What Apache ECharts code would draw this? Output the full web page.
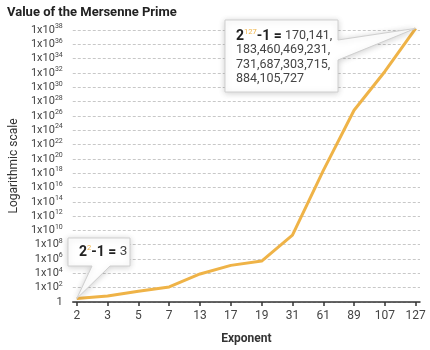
<!DOCTYPE html>
<html>
<head>
<meta charset="utf-8">
<script src="https://cdn.jsdelivr.net/npm/echarts@6/dist/echarts.min.js"></script>
<style>html,body{margin:0;padding:0;background:#fff}#c{width:430px;height:350px}</style>
</head>
<body>
<div id="c"></div>
<script>
var exponents = ['2', '3', '5', '7', '13', '17', '19', '31', '61', '89', '107', '127'];
var primeValues = [3, 7, 31, 127, 8191, 131071, 524287, 2147483647, 2.305843009213694e18, 6.1897001964269014e26, 1.6225927682921336e32, 1.7014118346046923e38];
var titleText = 'Value of the Mersenne Prime';
var bigCallout = { index: 11, exp: '127', lines: ['170,141,', '183,460,469,231,', '731,687,303,715,', '884,105,727'] };
var smallCallout = { index: 0, exp: '2', value: '3' };

var FONT = "'Roboto', 'Liberation Sans', sans-serif";
var LINE = '#EFB347';
var chart = echarts.init(document.getElementById('c'), null, { renderer: 'canvas' });

var idx = exponents.map(function (_, i) { return i; });
var option = {
  animation: false,
  backgroundColor: '#fff',
  textStyle: { fontFamily: FONT },
  title: {
    text: titleText, left: 2, top: 1,
    textStyle: { fontFamily: FONT, fontSize: 13, fontWeight: 'bold', color: '#222' }
  },
  grid: { left: 57, right: 10, top: 30, bottom: 45, containLabel: false },
  xAxis: {
    type: 'value', min: -0.13, max: 11.14,
    name: 'Exponent', nameLocation: 'middle', nameGap: 31,
    nameTextStyle: { fontFamily: FONT, fontSize: 12, fontWeight: 'bold', color: '#333' },
    axisLine: { show: true, lineStyle: { color: '#333', width: 1.5 } },
    axisTick: { show: true, length: 4, customValues: idx, lineStyle: { color: '#333', width: 1.5 } },
    axisLabel: {
      customValues: idx, margin: 8, fontFamily: FONT, fontSize: 12, color: '#444',
      formatter: function (v) { return exponents[Math.round(v)]; }
    },
    splitLine: { show: false }
  },
  yAxis: {
    type: 'log', logBase: 10, min: 1, max: 1e38, interval: 2,
    name: 'Logarithmic scale', nameLocation: 'middle', nameGap: 46, nameRotate: 90,
    nameTextStyle: { fontFamily: FONT, fontSize: 12, color: '#333' },
    axisLine: { show: false }, axisTick: { show: false },
    axisLabel: {
      margin: 10, fontFamily: FONT, color: '#444',
      formatter: function (v) {
        var e = Math.round(Math.log10(v));
        return e === 0 ? '{a|1}' : '{a|1x10}{s|' + e + '}';
      },
      rich: {
        a: { fontFamily: FONT, fontSize: 11, lineHeight: 14, color: '#444' },
        s: { fontFamily: FONT, fontSize: 7, lineHeight: 9, verticalAlign: 'top', color: '#444' }
      }
    },
    splitLine: { show: true, lineStyle: { color: '#c8c8c8', type: [3, 2], width: 1 } }
  },
  series: [{
    type: 'line', clip: false, symbol: 'none',
    data: primeValues.map(function (v, i) { return [i, v]; }),
    lineStyle: { color: LINE, width: 3, join: 'round' }
  }]
};
chart.setOption(option);

var tip1 = chart.convertToPixel({ seriesIndex: 0 }, [bigCallout.index, primeValues[bigCallout.index]]);
var tip2 = chart.convertToPixel({ seriesIndex: 0 }, [smallCallout.index, primeValues[smallCallout.index]]);

var shadow = { shadowBlur: 6, shadowColor: 'rgba(0,0,0,0.18)', shadowOffsetX: 0, shadowOffsetY: 1 };
var b1 = { l: 225, t: 20, r: 338, b: 92 };
var b2 = { l: 68, t: 238, r: 130, b: 266 };
var boxStyle = Object.assign({ fill: '#fff', stroke: '#cfcfcf', lineWidth: 1 }, shadow);
var calloutRich = function (numSize) {
  return {
    b: { fontFamily: FONT, fontSize: 14, fontWeight: 'bold', fill: '#222', lineHeight: 16 },
    s: { fontFamily: FONT, fontSize: 7.5, fill: LINE, verticalAlign: 'top', lineHeight: 9 },
    n: { fontFamily: FONT, fontSize: numSize, fill: '#444', lineHeight: 16 }
  };
};

chart.setOption({
  graphic: [
    {
      type: 'polygon', silent: true, z: 100,
      shape: { points: [[b1.l, b1.t], [b1.r, b1.t], [b1.r, 40], [tip1[0], tip1[1]], [b1.r, 60], [b1.r, b1.b], [b1.l, b1.b]] },
      style: boxStyle
    },
    {
      type: 'text', z: 101, x: 236, y: 36,
      style: {
        text: '{b|2}{s|' + bigCallout.exp + '}{b|-1 =} {n|' + bigCallout.lines[0] + '}',
        verticalAlign: 'middle',
        rich: calloutRich(12.5)
      }
    },
    {
      type: 'text', z: 101, x: 236, y: 43,
      style: {
        text: bigCallout.lines.slice(1).join('\n'),
        font: '12.5px ' + FONT, fill: '#444', lineHeight: 14.5, verticalAlign: 'top'
      }
    },
    {
      type: 'polygon', silent: true, z: 100,
      shape: { points: [[b2.l, b2.t], [b2.r, b2.t], [b2.r, b2.b], [110, b2.b], [tip2[0], tip2[1]], [92, b2.b], [b2.l, b2.b]] },
      style: boxStyle
    },
    {
      type: 'text', z: 101, x: 79, y: 252,
      style: {
        text: '{b|2}{s|' + smallCallout.exp + '}{b|-1 =} {n|' + smallCallout.value + '}',
        verticalAlign: 'middle',
        rich: calloutRich(13.5)
      }
    }
  ]
});
</script>
</body>
</html>
